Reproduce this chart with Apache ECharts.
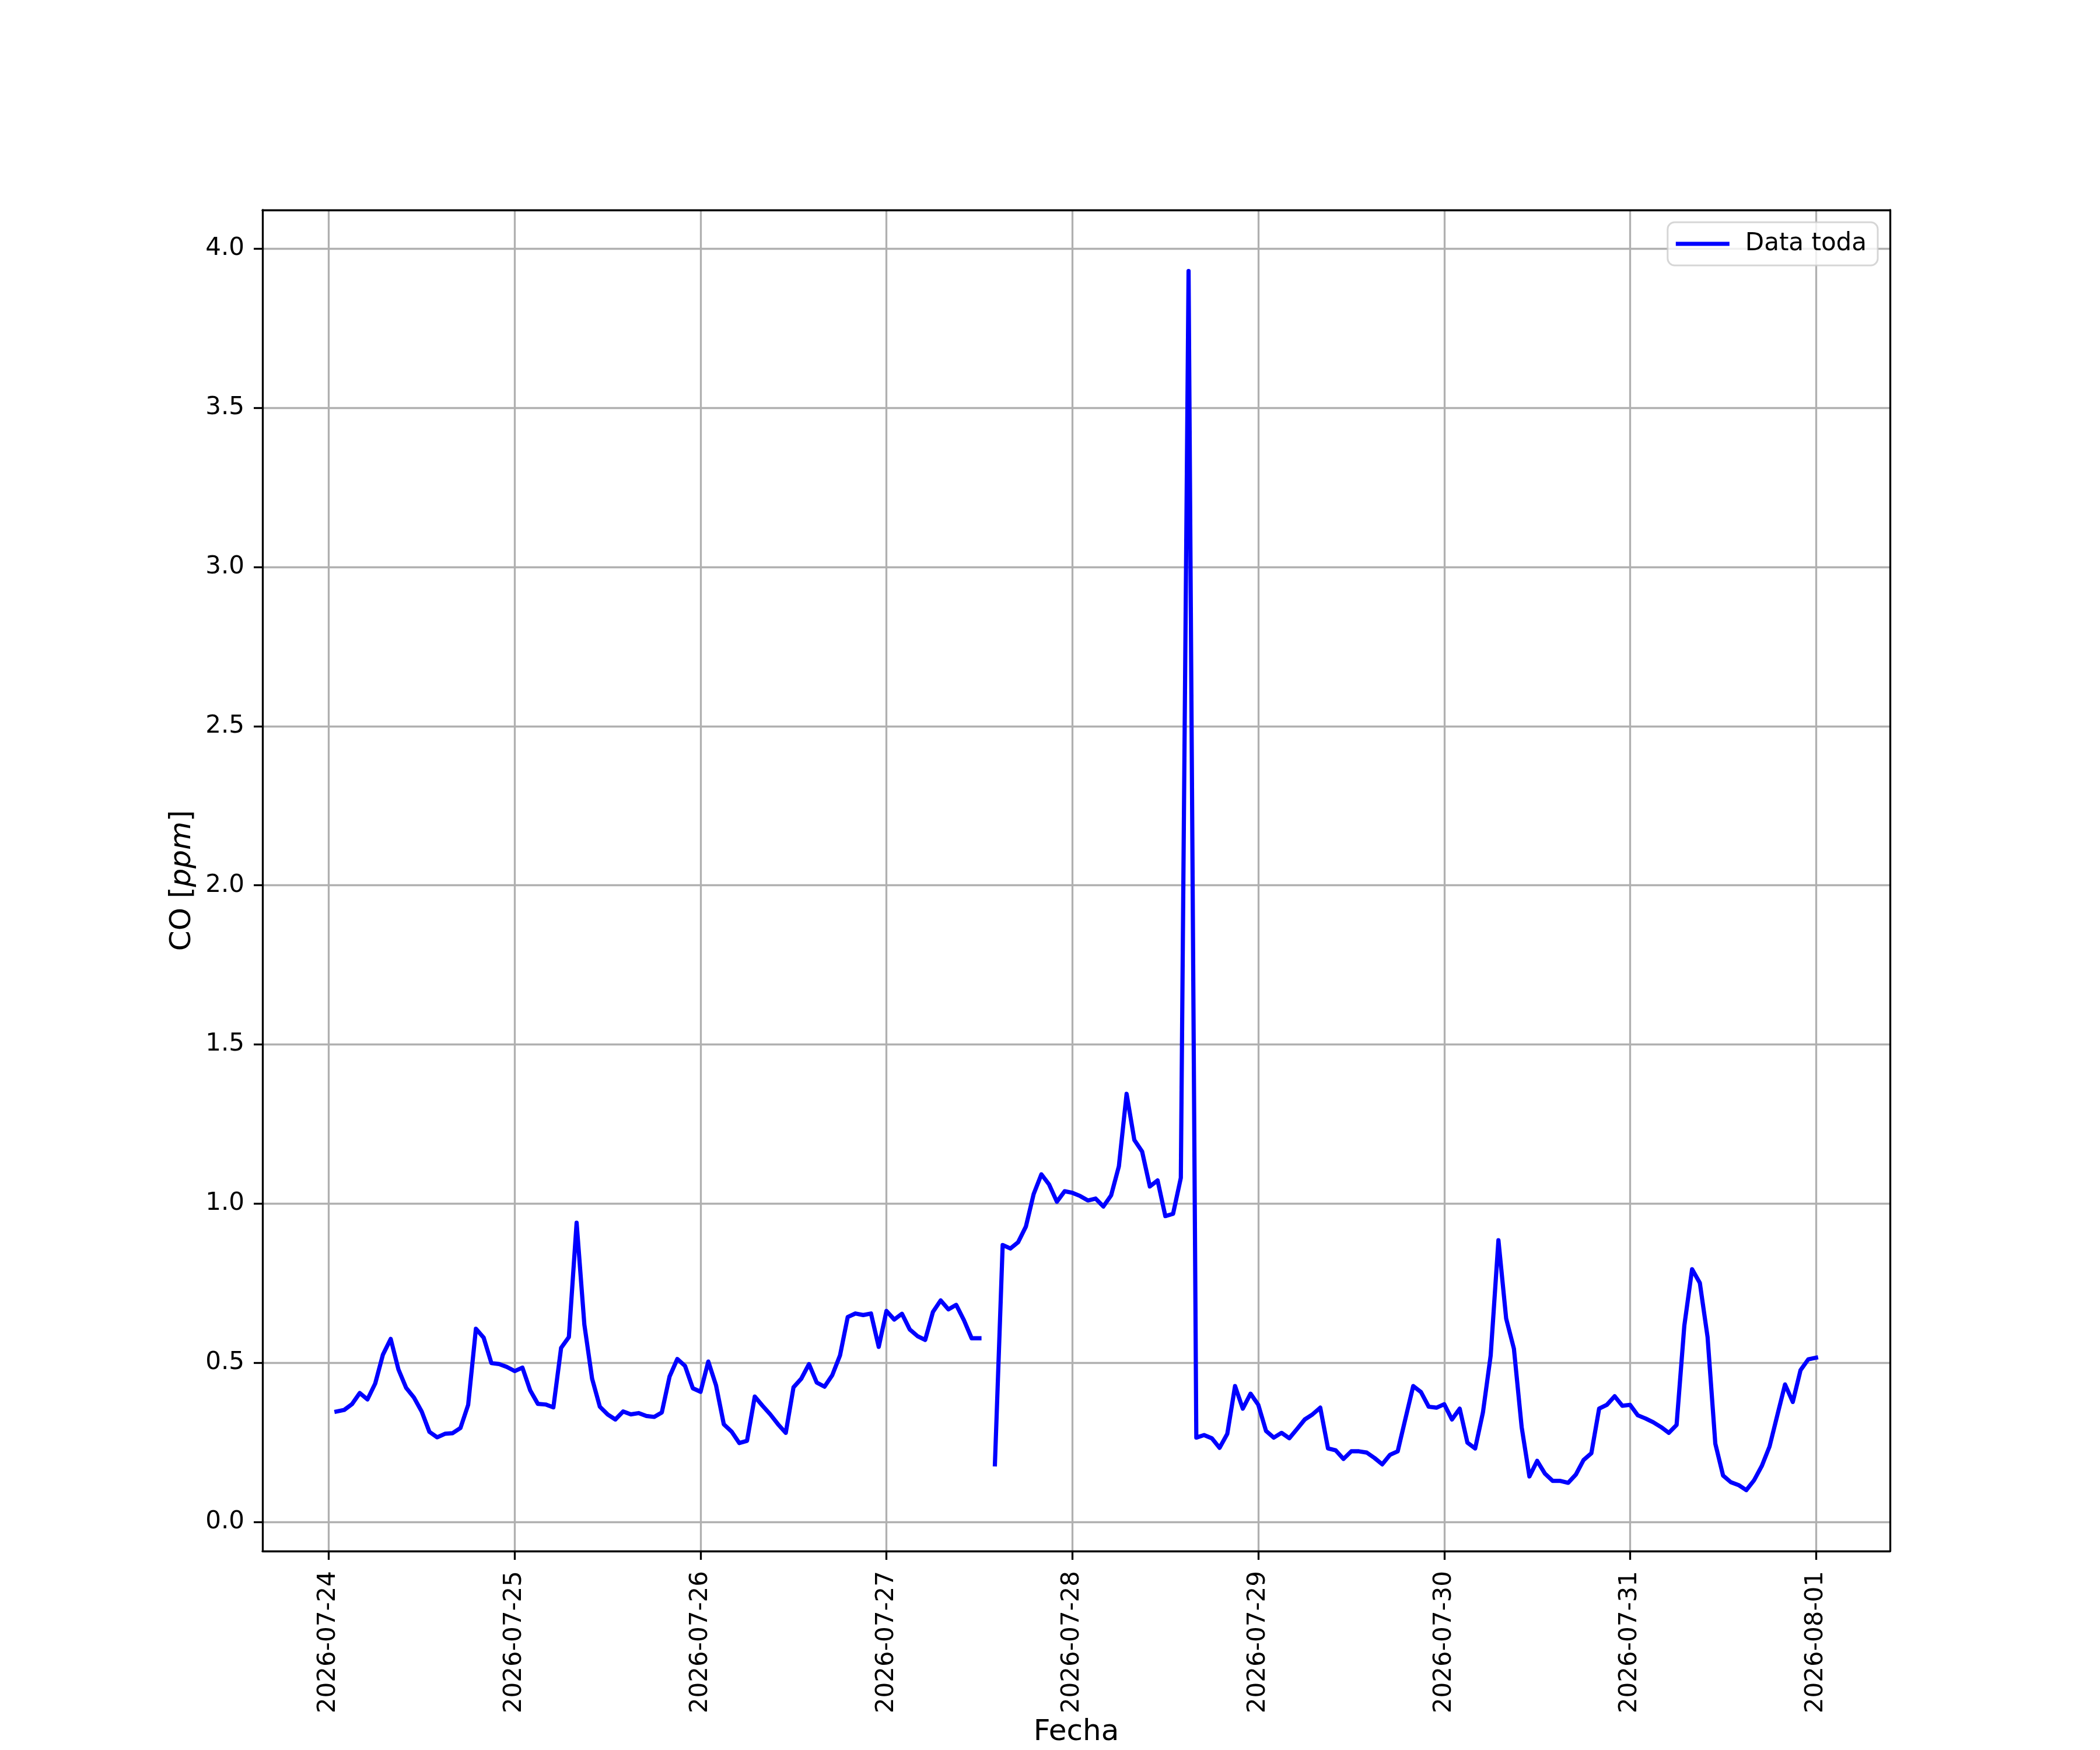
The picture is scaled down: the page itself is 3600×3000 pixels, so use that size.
<!DOCTYPE html>
<html>
<head>
<meta charset="utf-8">
<script src="https://cdn.jsdelivr.net/npm/echarts@6/dist/echarts.min.js"></script>
<style>
html,body{margin:0;padding:0;background:#fff;}
#chart{width:3600px;height:3000px;}
</style>
</head>
<body>
<div id="chart"></div>
<script>
// Hourly CO readings; each array runs from 01:00 of the named day to 00:00 of the next day
const fechaInicio = Date.UTC(2026, 6, 24, 1, 0, 0);
const co_0724 = [0.347,0.352,0.370,0.405,0.385,0.435,0.526,0.575,0.479,0.421,0.391,0.347,0.283,0.266,0.277,0.279,0.295,0.368,0.607,0.579,0.499,0.496,0.487,0.474];
const co_0725 = [0.485,0.414,0.371,0.369,0.360,0.547,0.581,0.940,0.620,0.450,0.362,0.338,0.322,0.347,0.338,0.342,0.333,0.330,0.344,0.457,0.512,0.490,0.420,0.409];
const co_0726 = [0.504,0.429,0.307,0.284,0.248,0.255,0.394,0.365,0.338,0.307,0.280,0.423,0.450,0.496,0.438,0.425,0.461,0.523,0.644,0.655,0.650,0.655,0.550,0.663];
const co_0727 = [0.636,0.654,0.605,0.584,0.572,0.660,0.696,0.668,0.682,0.634,0.577,0.577,null,0.181,0.870,0.859,0.879,0.928,1.030,1.092,1.060,1.006,1.039,1.034];
const co_0728 = [1.024,1.010,1.016,0.991,1.026,1.117,1.345,1.200,1.164,1.054,1.073,0.961,0.968,1.081,3.930,0.265,0.273,0.263,0.233,0.277,0.427,0.356,0.403,0.368];
const co_0729 = [0.286,0.265,0.280,0.263,0.292,0.322,0.338,0.359,0.231,0.225,0.198,0.222,0.222,0.218,0.201,0.181,0.211,0.222,0.325,0.427,0.408,0.362,0.359,0.370];
const co_0730 = [0.322,0.356,0.249,0.231,0.344,0.523,0.885,0.639,0.544,0.298,0.143,0.192,0.152,0.129,0.129,0.123,0.149,0.195,0.216,0.356,0.368,0.395,0.365,0.368];
const co_0731 = [0.335,0.325,0.313,0.298,0.280,0.305,0.617,0.794,0.751,0.581,0.246,0.146,0.125,0.116,0.100,0.131,0.176,0.237,0.335,0.432,0.377,0.477,0.511,0.516];

const xTickLabels = ['2026-07-24','2026-07-25','2026-07-26','2026-07-27','2026-07-28','2026-07-29','2026-07-30','2026-07-31','2026-08-01'];
const yTickValues = [0.0,0.5,1.0,1.5,2.0,2.5,3.0,3.5,4.0];
const seriesName = 'Data toda';

const HOUR = 3600000;
const allValues = [].concat(co_0724, co_0725, co_0726, co_0727, co_0728, co_0729, co_0730, co_0731);
const seriesData = allValues.map((v, i) => [fechaInicio + i * HOUR, v]);
const xTickValues = xTickLabels.map(s => Date.parse(s + 'T00:00:00Z'));

// matplotlib-style 5% margins
const tFirst = seriesData[0][0], tLast = seriesData[seriesData.length - 1][0];
const xPad = (tLast - tFirst) * 0.05;
const finite = allValues.filter(v => v !== null);
const vMin = Math.min.apply(null, finite), vMax = Math.max.apply(null, finite);
const yPad = (vMax - vMin) * 0.05;

const FONT = 'DejaVu Sans';
const black = '#000000';
const chart = echarts.init(document.getElementById('chart'), null, {renderer: 'canvas'});

function fmtDate(ms) {
  const d = new Date(ms);
  const p = n => String(n).padStart(2, '0');
  return d.getUTCFullYear() + '-' + p(d.getUTCMonth() + 1) + '-' + p(d.getUTCDate());
}

chart.setOption({
  animation: false,
  backgroundColor: '#ffffff',
  color: ['#0000ff'],
  grid: {left: 450, right: 360, top: 360, bottom: 330, containLabel: false},
  legend: {
    data: [seriesName],
    right: 381, top: 381,
    icon: 'rect', itemWidth: 92, itemHeight: 7,
    padding: [16, 19, 16, 14],
    backgroundColor: 'rgba(255,255,255,0.8)',
    borderColor: 'rgba(204,204,204,0.8)', borderWidth: 3, borderRadius: 12,
    textStyle: {fontFamily: FONT, fontSize: 42, color: black, padding: [0, 0, 0, 22]}
  },
  xAxis: [{
    type: 'value',
    min: tFirst - xPad, max: tLast + xPad,
    position: 'bottom',
    axisLine: {show: true, onZero: false, lineStyle: {color: black, width: 3.3}},
    axisTick: {show: true, customValues: xTickValues, inside: false, length: 15, lineStyle: {color: black, width: 3.3}},
    axisLabel: {show: true, customValues: xTickValues, rotate: 90, margin: 34, fontFamily: FONT, fontSize: 42, color: black,
      formatter: v => fmtDate(v)},
    splitLine: {show: true, lineStyle: {color: '#b0b0b0', width: 3.3}},
    name: 'Fecha', nameLocation: 'middle', nameGap: 274,
    nameTextStyle: {fontFamily: FONT, fontSize: 50, color: black}
  }, {
    type: 'value',
    min: tFirst - xPad, max: tLast + xPad,
    position: 'top',
    axisLine: {show: true, onZero: false, lineStyle: {color: black, width: 3.3}},
    axisTick: {show: false}, axisLabel: {show: false}, splitLine: {show: false}
  }],
  yAxis: [{
    type: 'value',
    min: vMin - yPad, max: vMax + yPad,
    position: 'left',
    axisLine: {show: true, onZero: false, lineStyle: {color: black, width: 3.3}},
    axisTick: {show: true, customValues: yTickValues, inside: false, length: 15, lineStyle: {color: black, width: 3.3}},
    axisLabel: {show: true, customValues: yTickValues, margin: 31, fontFamily: FONT, fontSize: 42, color: black,
      formatter: v => Number(v).toFixed(1)},
    splitLine: {show: true, lineStyle: {color: '#b0b0b0', width: 3.3}},
    name: '{n|CO [}{i|ppm}{n|]}', nameLocation: 'middle', nameGap: 112,
    nameTextStyle: {fontFamily: FONT, fontSize: 50, color: black,
      rich: {n: {fontFamily: FONT, fontSize: 50, color: black}, i: {fontFamily: FONT, fontSize: 50, fontStyle: 'italic', color: black}}}
  }, {
    type: 'value',
    min: vMin - yPad, max: vMax + yPad,
    position: 'right',
    axisLine: {show: true, onZero: false, lineStyle: {color: black, width: 3.3}},
    axisTick: {show: false}, axisLabel: {show: false}, splitLine: {show: false}
  }],
  series: [{
    name: seriesName,
    type: 'line',
    xAxisIndex: 0, yAxisIndex: 0,
    data: seriesData,
    showSymbol: false,
    connectNulls: false,
    itemStyle: {color: '#0000ff'},
    lineStyle: {color: '#0000ff', width: 7.2, cap: 'square', join: 'round'},
    z: 3
  }]
});
</script>
</body>
</html>
